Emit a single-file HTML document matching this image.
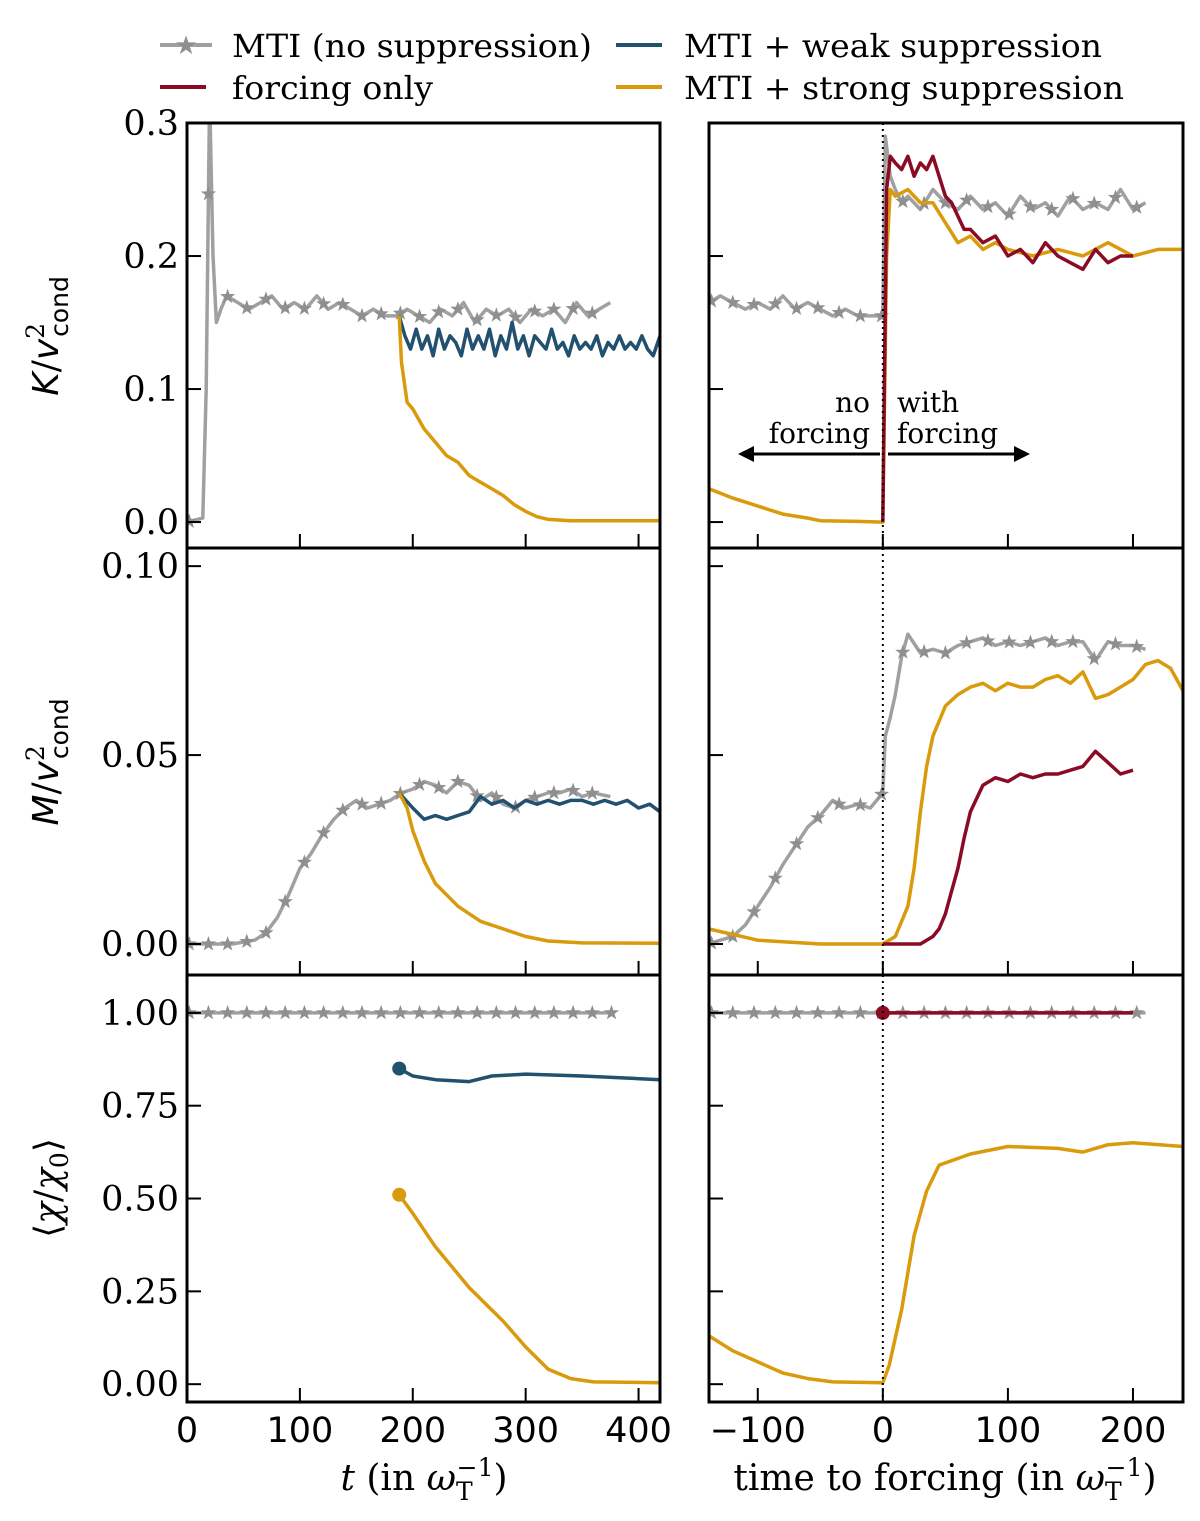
<!DOCTYPE html>
<html><head><meta charset="utf-8"><style>
html,body{margin:0;padding:0;background:#fff;}
svg{display:block;font-family:"DejaVu Serif","Liberation Serif",serif;}
</style></head><body>
<svg id="fig" width="1200" height="1521" viewBox="0 0 1200 1521" xmlns="http://www.w3.org/2000/svg">
<g id="legend">
 <g>
  <line x1="160" y1="45" x2="212" y2="45" stroke="#a0a0a0" stroke-width="4"/>
  <text x="186" y="54" font-size="26" fill="#909090" text-anchor="middle" font-family="DejaVu Sans,sans-serif">★</text>
  <text x="232" y="57" font-size="32" textLength="360" lengthAdjust="spacingAndGlyphs">MTI (no suppression)</text>
 </g>
 <g>
  <line x1="160" y1="87" x2="206" y2="87" stroke="#8b0a24" stroke-width="4"/>
  <text x="232" y="99" font-size="32" textLength="201" lengthAdjust="spacingAndGlyphs">forcing only</text>
 </g>
 <g>
  <line x1="616" y1="45" x2="662" y2="45" stroke="#22506f" stroke-width="4"/>
  <text x="684" y="57" font-size="32" textLength="418" lengthAdjust="spacingAndGlyphs">MTI + weak suppression</text>
 </g>
 <g>
  <line x1="616" y1="87" x2="662" y2="87" stroke="#d99a0b" stroke-width="4"/>
  <text x="684" y="99" font-size="32" textLength="440" lengthAdjust="spacingAndGlyphs">MTI + strong suppression</text>
 </g>
</g>
</svg>
<script>
// ---------- data ----------
const leftTopGrayT = [0,14,17,20,23,26,30,35,45,55,65,75,85,95,105,115,125,135,145,155,165,175,185,195,205,215,225,235,245,255,265,275,285,295,305,315,325,335,345,355,365,375];
const leftTopGrayV = [0,0.003,0.1,0.32,0.2,0.15,0.16,0.17,0.165,0.16,0.165,0.17,0.16,0.165,0.16,0.17,0.16,0.165,0.16,0.155,0.16,0.155,0.155,0.16,0.155,0.15,0.16,0.155,0.165,0.15,0.16,0.155,0.16,0.15,0.16,0.155,0.16,0.15,0.165,0.155,0.16,0.165];
const leftTopBlueT = [188,193,198,203,208,213,218,223,228,233,238,243,248,253,258,263,268,273,278,283,288,293,298,303,308,313,318,323,328,333,338,343,348,353,358,363,368,373,378,383,388,393,398,403,408,413,419];
const leftTopBlueV = [0.155,0.14,0.13,0.145,0.13,0.14,0.125,0.145,0.13,0.14,0.135,0.125,0.145,0.13,0.14,0.13,0.145,0.125,0.14,0.13,0.15,0.13,0.14,0.125,0.14,0.135,0.13,0.145,0.13,0.135,0.125,0.14,0.13,0.135,0.13,0.14,0.125,0.135,0.13,0.14,0.13,0.135,0.13,0.14,0.13,0.125,0.14];
const leftTopOrangeT = [188,190,195,200,210,220,230,240,250,260,270,280,290,300,310,320,340,419];
const leftTopOrangeV = [0.155,0.12,0.09,0.085,0.07,0.06,0.05,0.045,0.035,0.03,0.025,0.02,0.013,0.008,0.004,0.002,0.001,0.001];

const rightTopGrayT = [-139,-130,-120,-110,-100,-90,-80,-70,-60,-50,-40,-30,-20,-10,0,2,6,10,15,20,30,40,50,60,70,80,90,100,110,120,130,140,150,160,170,180,190,200,210];
const rightTopGrayV = [0.165,0.17,0.165,0.16,0.165,0.16,0.17,0.16,0.165,0.16,0.155,0.16,0.155,0.155,0.155,0.29,0.26,0.25,0.24,0.245,0.235,0.25,0.24,0.235,0.245,0.235,0.24,0.23,0.245,0.235,0.24,0.23,0.245,0.235,0.24,0.235,0.25,0.235,0.24];
const rightTopRedT = [0,3,6,10,15,20,25,30,35,40,45,50,55,60,65,70,80,90,100,110,120,130,140,150,160,170,180,190,200];
const rightTopRedV = [0,0.25,0.275,0.27,0.265,0.275,0.26,0.27,0.265,0.275,0.26,0.245,0.24,0.23,0.22,0.22,0.21,0.215,0.2,0.205,0.195,0.21,0.2,0.195,0.19,0.205,0.195,0.2,0.2];
const rightTopOrangeT = [-139,-120,-100,-80,-60,-50,-20,0,3,6,10,20,30,40,50,60,70,80,90,100,120,140,160,180,200,220,240];
const rightTopOrangeV = [0.025,0.018,0.012,0.006,0.003,0.001,0.0005,0,0.2,0.25,0.245,0.25,0.24,0.24,0.225,0.21,0.215,0.205,0.21,0.205,0.2,0.205,0.2,0.21,0.2,0.205,0.205];

const leftMidGrayT = [0,20,40,60,70,80,90,100,110,120,130,140,150,160,170,180,190,200,210,220,230,240,250,260,270,280,290,300,310,320,330,340,350,360,375];
const leftMidGrayV = [0,0,0,0.001,0.003,0.007,0.013,0.02,0.024,0.029,0.033,0.036,0.038,0.036,0.037,0.038,0.04,0.041,0.043,0.042,0.04,0.043,0.042,0.038,0.04,0.037,0.036,0.038,0.039,0.04,0.04,0.041,0.039,0.04,0.039];
const leftMidBlueT = [188,200,210,220,230,240,250,260,270,280,290,300,310,320,330,340,350,360,370,380,390,400,410,419];
const leftMidBlueV = [0.04,0.036,0.033,0.034,0.033,0.034,0.035,0.039,0.037,0.038,0.036,0.038,0.037,0.038,0.037,0.038,0.038,0.037,0.038,0.037,0.038,0.036,0.037,0.035];
const leftMidOrangeT = [188,195,200,210,220,240,260,280,300,320,350,419];
const leftMidOrangeV = [0.04,0.036,0.03,0.022,0.016,0.01,0.006,0.004,0.002,0.0008,0.0003,0.0002];

const rightMidGrayT = [-139,-130,-120,-110,-100,-90,-80,-70,-60,-50,-40,-30,-20,-10,0,2,6,10,15,20,30,40,50,60,70,80,90,100,110,120,130,140,150,160,170,180,190,200,210];
const rightMidGrayV = [0,0.001,0.002,0.005,0.01,0.015,0.021,0.026,0.031,0.034,0.038,0.036,0.037,0.036,0.04,0.055,0.06,0.066,0.076,0.082,0.077,0.078,0.077,0.079,0.08,0.081,0.079,0.08,0.079,0.08,0.081,0.079,0.08,0.08,0.075,0.08,0.079,0.079,0.078];
const rightMidOrangeT = [-139,-100,-50,0,10,20,25,30,35,40,50,60,70,80,90,100,110,120,130,140,150,160,170,180,190,200,210,220,230,240];
const rightMidOrangeV = [0.004,0.001,0,0,0.002,0.01,0.02,0.035,0.047,0.055,0.063,0.066,0.068,0.069,0.067,0.069,0.068,0.068,0.07,0.071,0.069,0.072,0.065,0.066,0.068,0.07,0.074,0.075,0.073,0.067];
const rightMidRedT = [0,30,40,45,50,55,60,65,70,80,90,100,110,120,130,140,150,160,170,180,190,200];
const rightMidRedV = [0,0,0.002,0.004,0.008,0.014,0.02,0.028,0.035,0.042,0.044,0.043,0.045,0.044,0.045,0.045,0.046,0.047,0.051,0.048,0.045,0.046];

const leftBotGrayT = [0,378];
const leftBotGrayV = [1,1];
const leftBotBlueT = [188,200,220,250,270,300,350,419];
const leftBotBlueV = [0.85,0.83,0.82,0.815,0.83,0.835,0.83,0.82];
const leftBotOrangeT = [188,200,220,250,280,300,320,340,360,419];
const leftBotOrangeV = [0.51,0.46,0.37,0.26,0.17,0.1,0.04,0.015,0.006,0.004];

const rightBotGrayT = [-139,210];
const rightBotGrayV = [1,1];
const rightBotRedT = [0,200];
const rightBotRedV = [1,1];
const rightBotOrangeT = [-139,-120,-100,-80,-60,-40,0,5,15,25,35,45,70,100,140,160,180,200,240];
const rightBotOrangeV = [0.13,0.09,0.06,0.03,0.015,0.006,0.004,0.05,0.2,0.4,0.52,0.59,0.62,0.64,0.635,0.625,0.645,0.65,0.64];

const leftXTicks = [0,100,200,300,400];
const rightXTicks = [-100,0,100,200];
const rightXTickLabels = ["\u2212100","0","100","200"];
const topYTicks = [0,0.1,0.2,0.3];
const topYLabels = ["0.0","0.1","0.2","0.3"];
const midYTicks = [0,0.05,0.1];
const midYLabels = ["0.00","0.05","0.10"];
const botYTicks = [0,0.25,0.5,0.75,1];
const botYLabels = ["0.00","0.25","0.50","0.75","1.00"];

// ---------- drawing ----------
const NS = "http://www.w3.org/2000/svg";
const svg = document.getElementById('fig');
const GRAY="#a0a0a0", RED="#8b0a24", BLUE="#22506f", ORANGE="#d99a0b";
function mk(tag, attrs, parent){ const e=document.createElementNS(NS,tag); for(const k in attrs) e.setAttribute(k,attrs[k]); (parent||svg).appendChild(e); return e; }

const cols = {L:{x0:187,x1:660,d0:0,d1:419}, R:{x0:709,x1:1183,d0:-139,d1:240}};
const rows = {T:{y0:123,y1:548,d0:-0.0195,d1:0.3}, M:{y0:548,y1:975,d0:-0.0082,d1:0.1048}, B:{y0:975,y1:1402,d0:-0.048,d1:1.102}};
function sx(c,v){ return c.x0 + (v-c.d0)/(c.d1-c.d0)*(c.x1-c.x0); }
function sy(r,v){ return r.y1 - (v-r.d0)/(r.d1-r.d0)*(r.y1-r.y0); }

function starPath(cx,cy,R){ let s=""; for(let i=0;i<10;i++){ const a=-Math.PI/2+i*Math.PI/5; const rr=i%2?R*0.4:R; s+=(i?"L":"M")+(cx+rr*Math.cos(a)).toFixed(1)+","+(cy+rr*Math.sin(a)).toFixed(1);} return s+"Z"; }

function series(panel, c, r, T, V, color, name, stars){
  let d=""; T.forEach((t,i)=>{ d+=(i?"L":"M")+sx(c,t).toFixed(1)+","+sy(r,V[i]).toFixed(1); });
  const p = mk('path',{d:d,fill:'none',stroke:color,'stroke-width':3.5,'stroke-linejoin':'round'},panel);
  
  
  if(stars){
    const g = mk('g',{},panel);
    
    
    const tStart=T[0], tEnd=T[T.length-1];
    for(let t=tStart+2; t<=tEnd; t+=17){
      let j=0; while(j<T.length-2 && T[j+1]<t) j++;
      const f=(T[j+1]===T[j])?0:(t-T[j])/(T[j+1]-T[j]);
      const v=V[j]+(V[j+1]-V[j])*Math.max(0,Math.min(1,f));
      mk('path',{d:starPath(sx(c,t),sy(r,v),8),fill:'#8f8f8f'},g);
    }
  }
}
function dot(panel,c,r,t,v,color,name){
  const e=mk('circle',{cx:sx(c,t),cy:sy(r,v),r:7,fill:color},panel);
  
  
}

function panel(ck, rk, name, yt, yl, xt, xl){
  const c=cols[ck], r=rows[rk];
  const g=mk('g',{});
  
  
  const cid='clip'+ck+rk;
  const cp=mk('clipPath',{id:cid},g); mk('rect',{x:c.x0,y:r.y0,width:c.x1-c.x0,height:r.y1-r.y0},cp);
  const dg=mk('g',{'clip-path':'url(#'+cid+')'},g);
  
  
  const tg=mk('g',{stroke:'#000','stroke-width':2},g);
  
  
  yt.forEach((v,i)=>{ const y=sy(r,v); if(y<r.y0-1||y>r.y1+1) return;
    mk('line',{x1:c.x0,y1:y,x2:c.x0+14,y2:y},tg);
    if(yl){ const t=mk('text',{x:c.x0-8,y:y+12,'font-size':35,'text-anchor':'end',stroke:'none'},g); t.textContent=yl[i];
        }
  });
  xt.forEach((v,i)=>{ const x=sx(c,v);
    mk('line',{x1:x,y1:r.y1,x2:x,y2:r.y1-14},tg);
    if(xl){ const t=mk('text',{x:x,y:r.y1+40,'font-size':35,'text-anchor':'middle','font-family':'DejaVu Sans,sans-serif',stroke:'none'},g); t.textContent=xl[i];
        }
  });
  return {g:dg, frame:()=>{ const f=mk('rect',{x:c.x0,y:r.y0,width:c.x1-c.x0,height:r.y1-r.y0,fill:'none',stroke:'#000','stroke-width':3},g);
        }, c:c, r:r};
}
function vline(P){ const l=mk('line',{x1:sx(P.c,0),y1:P.r.y0,x2:sx(P.c,0),y2:P.r.y1,stroke:'#000','stroke-width':2,'stroke-dasharray':'2,4'},P.g);
    }

let P=panel('L','T','panel-kinetic-left',topYTicks,topYLabels,leftXTicks,null);
series(P.g,P.c,P.r,leftTopGrayT,leftTopGrayV,GRAY,'kinetic-mti',true);
series(P.g,P.c,P.r,leftTopBlueT,leftTopBlueV,BLUE,'kinetic-weak');
series(P.g,P.c,P.r,leftTopOrangeT,leftTopOrangeV,ORANGE,'kinetic-strong');
P.frame();
P=panel('R','T','panel-kinetic-right',topYTicks,null,rightXTicks,null);
series(P.g,P.c,P.r,rightTopGrayT,rightTopGrayV,GRAY,'kinetic-mti-forced',true);
series(P.g,P.c,P.r,rightTopOrangeT,rightTopOrangeV,ORANGE,'kinetic-strong-forced');
series(P.g,P.c,P.r,rightTopRedT,rightTopRedV,RED,'kinetic-forcing-only');
vline(P); P.frame();
(function(){
  const g=mk('g',{});
   
  const t1=mk('text',{x:870,y:412,'font-size':28,'text-anchor':'end'},g); t1.textContent='no';
  const t2=mk('text',{x:870,y:443,'font-size':28,'text-anchor':'end'},g); t2.textContent='forcing';
  const t3=mk('text',{x:897,y:412,'font-size':28},g); t3.textContent='with';
  const t4=mk('text',{x:897,y:443,'font-size':28},g); t4.textContent='forcing';
  mk('line',{x1:880,y1:454,x2:752,y2:454,stroke:'#000','stroke-width':3},g);
  mk('path',{d:'M738,454 L754,446 L754,462 Z',fill:'#000'},g);
  mk('line',{x1:888,y1:454,x2:1016,y2:454,stroke:'#000','stroke-width':3},g);
  mk('path',{d:'M1030,454 L1014,446 L1014,462 Z',fill:'#000'},g);
})();
P=panel('L','M','panel-magnetic-left',midYTicks,midYLabels,leftXTicks,null);
series(P.g,P.c,P.r,leftMidGrayT,leftMidGrayV,GRAY,'magnetic-mti',true);
series(P.g,P.c,P.r,leftMidBlueT,leftMidBlueV,BLUE,'magnetic-weak');
series(P.g,P.c,P.r,leftMidOrangeT,leftMidOrangeV,ORANGE,'magnetic-strong');
P.frame();
P=panel('R','M','panel-magnetic-right',midYTicks,null,rightXTicks,null);
series(P.g,P.c,P.r,rightMidGrayT,rightMidGrayV,GRAY,'magnetic-mti-forced',true);
series(P.g,P.c,P.r,rightMidOrangeT,rightMidOrangeV,ORANGE,'magnetic-strong-forced');
series(P.g,P.c,P.r,rightMidRedT,rightMidRedV,RED,'magnetic-forcing-only');
vline(P); P.frame();
P=panel('L','B','panel-conductivity-left',botYTicks,botYLabels,leftXTicks,leftXTicks.map(String));
series(P.g,P.c,P.r,leftBotGrayT,leftBotGrayV,GRAY,'conductivity-mti',true);
series(P.g,P.c,P.r,leftBotBlueT,leftBotBlueV,BLUE,'conductivity-weak');
series(P.g,P.c,P.r,leftBotOrangeT,leftBotOrangeV,ORANGE,'conductivity-strong');
dot(P.g,P.c,P.r,leftBotBlueT[0],leftBotBlueV[0],BLUE,'conductivity-weak-start');
dot(P.g,P.c,P.r,leftBotOrangeT[0],leftBotOrangeV[0],ORANGE,'conductivity-strong-start');
P.frame();
P=panel('R','B','panel-conductivity-right',botYTicks,null,rightXTicks,rightXTickLabels);
series(P.g,P.c,P.r,rightBotGrayT,rightBotGrayV,GRAY,'conductivity-mti-forced',true);
series(P.g,P.c,P.r,rightBotOrangeT,rightBotOrangeV,ORANGE,'conductivity-strong-forced');
series(P.g,P.c,P.r,rightBotRedT,rightBotRedV,RED,'conductivity-forcing-only');
dot(P.g,P.c,P.r,rightBotRedT[0],rightBotRedV[0],RED,'conductivity-forcing-start');
vline(P); P.frame();

function lab(x,y,rot,html,name,fs){
  const t=mk('text',{x:x,y:y,'font-size':fs||36,'text-anchor':'middle',transform:rot?('rotate(-90 '+x+' '+y+')'):''});
  t.innerHTML=html;
   
}
lab(58,336,true,'<tspan font-style="italic" font-family="DejaVu Sans,sans-serif">K</tspan>/<tspan font-style="italic" font-family="DejaVu Sans,sans-serif">v</tspan><tspan font-size="25" dy="-14">2</tspan><tspan font-size="25" dy="24" dx="-14" font-family="DejaVu Sans,sans-serif">cond</tspan>','y-axis-title-kinetic');
lab(58,762,true,'<tspan font-style="italic" font-family="DejaVu Sans,sans-serif">M</tspan>/<tspan font-style="italic" font-family="DejaVu Sans,sans-serif">v</tspan><tspan font-size="25" dy="-14">2</tspan><tspan font-size="25" dy="24" dx="-14" font-family="DejaVu Sans,sans-serif">cond</tspan>','y-axis-title-magnetic');
lab(60,1188,true,'⟨<tspan font-style="italic">χ</tspan>/<tspan font-style="italic">χ</tspan><tspan font-size="25" dy="8">0</tspan><tspan dy="-8">⟩</tspan>','y-axis-title-conductivity');
lab(424,1490,false,'<tspan font-style="italic">t</tspan> (in <tspan font-style="italic">ω</tspan><tspan font-size="25" dy="10">T</tspan><tspan font-size="25" dy="-24" dx="-16">−1</tspan><tspan dy="14">)</tspan>','x-axis-title-left');
lab(945,1490,false,'time to forcing (in <tspan font-style="italic">ω</tspan><tspan font-size="25" dy="10">T</tspan><tspan font-size="25" dy="-24" dx="-16">−1</tspan><tspan dy="14">)</tspan>','x-axis-title-right');
</script>
</body></html>
